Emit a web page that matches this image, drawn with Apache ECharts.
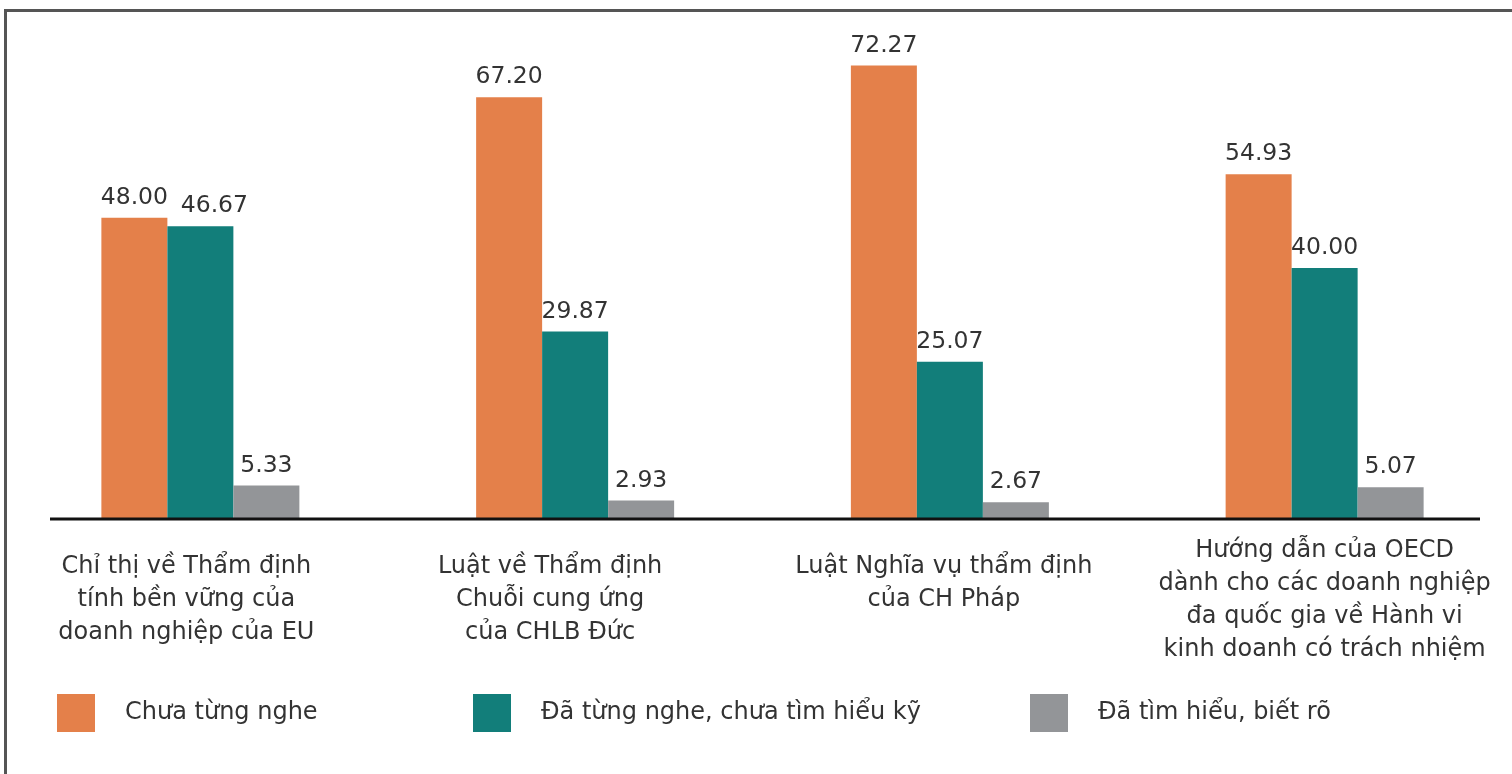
<!DOCTYPE html>
<html>
<head>
<meta charset="utf-8">
<script src="https://cdn.jsdelivr.net/npm/echarts@6/dist/echarts.min.js"></script>
<style>
  html, body { margin: 0; padding: 0; background: #fff; }
  #frame { position: absolute; left: 4px; top: 9px; width: 1520px; height: 800px; border-left: 3px solid #555; border-top: 3px solid #555; }
  #chart { position: absolute; left: 0; top: 0; width: 1512px; height: 774px; }
</style>
</head>
<body>
<div id="frame"></div>
<div id="chart"></div>
<script>
const categories = [
  'Chỉ thị về Thẩm định\ntính bền vững của\ndoanh nghiệp của EU',
  'Luật về Thẩm định\nChuỗi cung ứng\ncủa CHLB Đức',
  'Luật Nghĩa vụ thẩm định\ncủa CH Pháp',
  'Hướng dẫn của OECD\ndành cho các doanh nghiệp\nđa quốc gia về Hành vi\nkinh doanh có trách nhiệm'
];
const seriesNames = ['Chưa từng nghe', 'Đã từng nghe, chưa tìm hiểu kỹ', 'Đã tìm hiểu, biết rõ'];
const neverHeard = [48.00, 67.20, 72.27, 54.93];
const heardNotStudied = [46.67, 29.87, 25.07, 40.00];
const knowWell = [5.33, 2.93, 2.67, 5.07];
const colors = ['#E4804A', '#127E7A', '#939598'];

const FONT = '"DejaVu Sans", "Noto Sans", sans-serif';
const chart = echarts.init(document.getElementById('chart'));

const catPads = [[0, 28, 0, 0], [0, 50, 0, 0], [0, 12, 0, 0], [-16, 0, 0, 0]];
const catData = categories.map((c, i) => ({ value: c, textStyle: { padding: catPads[i] } }));

function makeSeries(name, data, color, labelShift) {
  return {
    name: name, type: 'bar', barWidth: 66, barGap: '0%',
    data: data.map((v, i) => (labelShift && labelShift[i]) ? { value: v, label: { offset: [labelShift[i], 0] } } : v),
    itemStyle: { color: color },
    label: { show: true, position: 'top', distance: 8, color: '#333', fontSize: 23.5, fontFamily: FONT,
      formatter: p => p.value.toFixed(2) },
    emphasis: { disabled: true }
  };
}

const legendBase = {
  top: 694, padding: 0, itemWidth: 38, itemHeight: 38, icon: 'rect',
  textStyle: { color: '#333', fontSize: 24, fontFamily: FONT, padding: [0, 0, 0, 25] }
};

chart.setOption({
  animation: false,
  grid: { left: 13, right: -3, top: 17, bottom: 255, containLabel: false },
  xAxis: {
    type: 'category', data: catData,
    axisLine: { show: false }, axisTick: { show: false },
    axisLabel: { color: '#333', fontSize: 24, fontFamily: FONT, lineHeight: 33, margin: 31, interval: 0 }
  },
  yAxis: { type: 'value', min: 0, max: 80, show: false, splitLine: { show: false } },
  legend: [
    Object.assign({}, legendBase, { left: 57, data: [seriesNames[0]] }),
    Object.assign({}, legendBase, { left: 473, data: [seriesNames[1]] }),
    Object.assign({}, legendBase, { left: 1030, data: [seriesNames[2]] })
  ],
  series: [
    makeSeries(seriesNames[0], neverHeard, colors[0]),
    makeSeries(seriesNames[1], heardNotStudied, colors[1], [14, 0, 0, 0]),
    makeSeries(seriesNames[2], knowWell, colors[2])
  ]
});

const y0 = chart.convertToPixel({ yAxisIndex: 0 }, 0);
chart.setOption({
  graphic: [{ type: 'line', shape: { x1: 50, y1: y0, x2: 1480, y2: y0 }, style: { stroke: '#111', lineWidth: 3 }, z: 10 }]
});
</script>
</body>
</html>
